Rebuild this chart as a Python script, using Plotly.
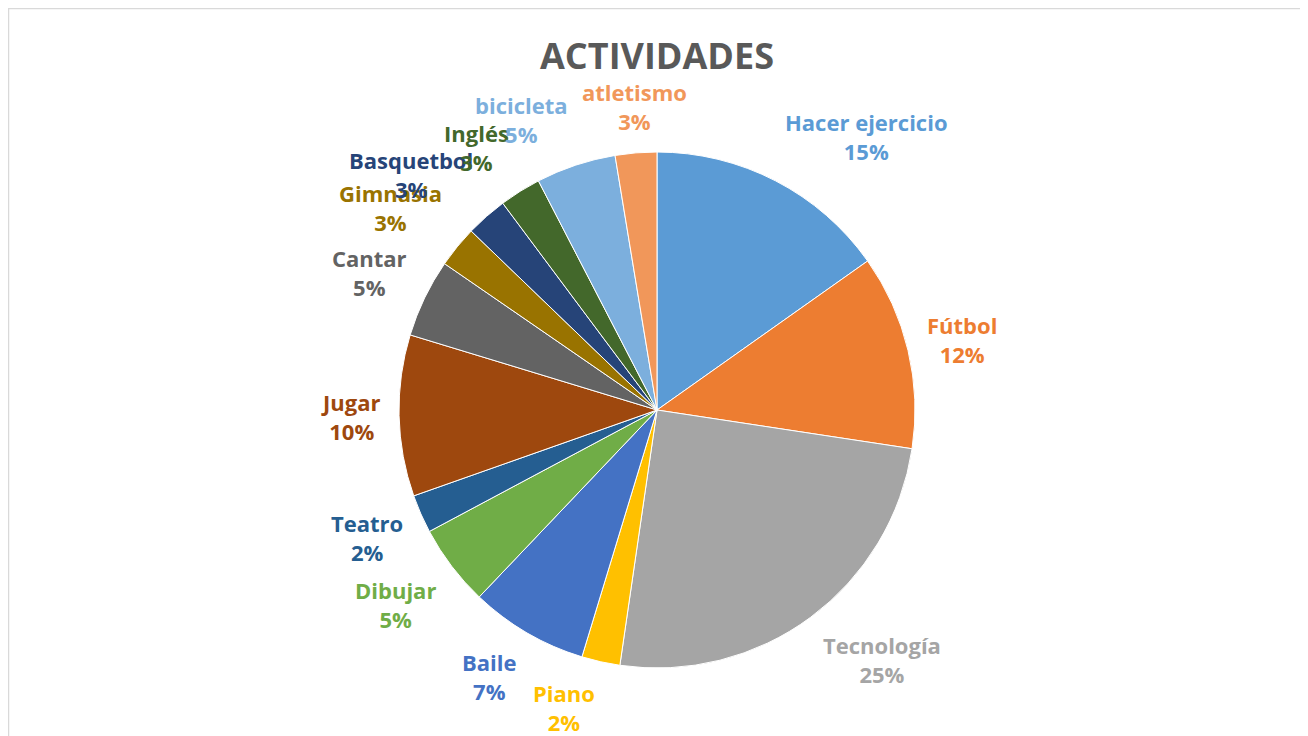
import math
import plotly.graph_objects as go

categories = ["Hacer ejercicio", "Fútbol", "Tecnología", "Piano", "Baile", "Dibujar",
              "Teatro", "Jugar", "Cantar", "Gimnasia", "Basquetbol", "Inglés",
              "bicicleta", "atletismo"]
values = [15.2, 12.2, 24.9, 2.4, 7.4, 5.1, 2.4, 10.1, 4.9, 2.6, 2.6, 2.6, 5.0, 2.6]
colors = ["#5B9BD5", "#ED7D31", "#A5A5A5", "#FFC000", "#4472C4", "#70AD47",
          "#255E91", "#9E480E", "#636363", "#997300", "#264478", "#43682B",
          "#7CAFDD", "#F1975A"]

W, H = 1308, 736
OFF = 8  # page body margin offset
cx, cy, r = 657 - OFF, 410 - OFF, 258
label_gap = 17
half_h = 29
FONT = "Open Sans"

fig = go.Figure(go.Pie(
    labels=categories,
    values=values,
    sort=False,
    direction="clockwise",
    rotation=0,
    marker=dict(colors=colors, line=dict(color="white", width=1)),
    textinfo="none",
    domain=dict(x=[(cx - r) / W, (cx + r) / W], y=[(H - cy - r) / H, (H - cy + r) / H]),
    showlegend=False,
    hoverinfo="label+percent",
))

# Data labels placed outside each slice, at its mid-angle (Excel "best fit" style)
total = sum(values)
annotations = []
cum = 0.0
for name, v, col in zip(categories, values, colors):
    mid = (cum + v / 2) / total * 2 * math.pi
    cum += v
    ux, uy = math.sin(mid), -math.cos(mid)  # screen direction (y down)
    px = cx + (r + label_gap) * ux
    f = min(1.0, max(0.0, (abs(uy) - 0.1) * 1.9))
    py = cy + (r + label_gap) * uy + math.copysign(f * half_h, uy)
    xa = "left" if ux > 0.15 else ("right" if ux < -0.15 else "center")
    pct = f"{round(v / total * 100)}%"
    annotations.append(dict(
        x=px / W, y=1 - py / H, xref="paper", yref="paper",
        text=f"<b>{name}</b><br><b>{pct}</b>", showarrow=False,
        xanchor=xa, yanchor="middle", align="center",
        font=dict(size=22, color=col, family=FONT),
    ))

fig.update_layout(
    width=W, height=H,
    margin=dict(l=0, r=0, t=0, b=0),
    paper_bgcolor="white",
    title=dict(text="<b>ACTIVIDADES</b>", x=(657 - OFF) / W, xanchor="center", y=1 - (56 - OFF) / H,
               yanchor="middle", font=dict(size=36, color="#595959", family=FONT)),
    annotations=annotations,
    shapes=[dict(type="rect", xref="paper", yref="paper", x0=0.5 / W, x1=(1306.5 - OFF) / W,
                 y0=-0.02, y1=1 - 0.5 / H,
                 line=dict(color="#D9D9D9", width=1.5), fillcolor="rgba(0,0,0,0)")],
)

fig.write_html("out.html")
